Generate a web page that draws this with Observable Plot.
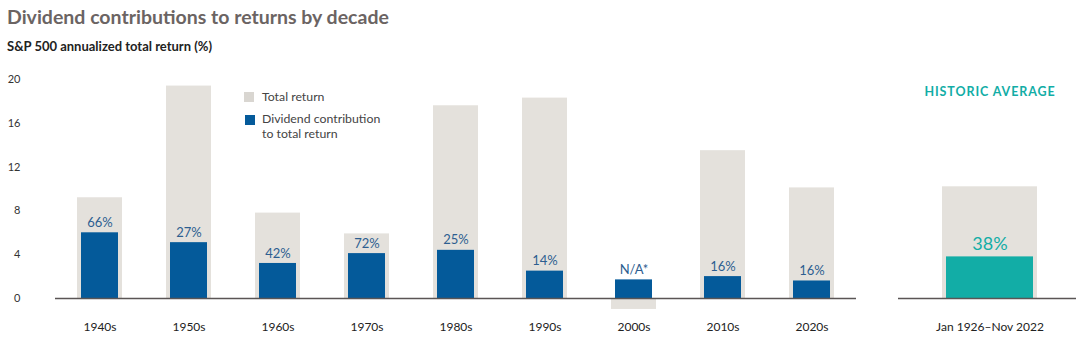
<!DOCTYPE html>
<html><head><meta charset="utf-8">
<script src="https://cdn.jsdelivr.net/npm/d3@7"></script>
<script src="https://cdn.jsdelivr.net/npm/@observablehq/plot@0.6"></script>
<style>
body{margin:0;background:#fff;font-family:Lato,"Open Sans",sans-serif;}
#wrap{position:relative;width:1090px;height:357px;overflow:hidden}
#title{position:absolute;left:7px;top:5px;font-size:19.5px;font-weight:700;color:#6b6463;white-space:nowrap}
#sub{position:absolute;left:7px;top:38px;font-size:13px;font-weight:700;color:#222;white-space:nowrap}
#chart{position:absolute;left:0;top:60px}
.leg{position:absolute;font-size:12.3px;color:#444;line-height:14px;white-space:nowrap}
.sw{position:absolute;width:10px;height:10px}
</style></head>
<body>
<div id="wrap">
  <div id="title">Dividend contributions to returns by decade</div>
  <div id="sub">S&amp;P 500 annualized total return (%)</div>
  <div id="chart"></div>
  <div class="sw" style="left:244px;top:92px;background:#d9d6d1"></div>
  <div class="leg" style="left:262px;top:90px">Total return</div>
  <div class="sw" style="left:245px;top:115px;background:#045a9a"></div>
  <div class="leg" style="left:262px;top:112px">Dividend contribution</div>
  <div class="leg" style="left:262px;top:127px">to total return</div>
</div>
<script>
const categories = ["1940s","1950s","1960s","1970s","1980s","1990s","2000s","2010s","2020s","Jan 1926–Nov 2022"];
const totalReturn = [9.2, 19.4, 7.8, 5.9, 17.6, 18.3, -1.0, 13.5, 10.1, 10.2];
const dividendReturn = [6.0, 5.1, 3.2, 4.1, 4.4, 2.5, 1.7, 2.0, 1.6, 3.8];
const shareLabels = ["66%","27%","42%","72%","25%","14%","N/A*","16%","16%","38%"];
const yTicks = [0, 4, 8, 12, 16, 20];
const historicHeading = "HISTORIC AVERAGE";
const gapKey = " ";

const rows = categories.map((c, i) => ({cat: c, total: totalReturn[i], div: dividendReturn[i], label: shareLabels[i], historic: i === categories.length - 1}));
const decades = rows.filter(d => !d.historic);
const hist = rows.filter(d => d.historic);
const domain = [...decades.map(d => d.cat), gapKey, ...hist.map(d => d.cat)];

const grey = "#e4e1dc", blue = "#045a9a", teal = "#12ada6";

const chart = Plot.plot({
  width: 1090, height: 297,
  marginLeft: 51, marginRight: 52, marginTop: 19, marginBottom: 59,
  style: {fontFamily: "Lato, 'Open Sans', sans-serif", color: "#333", background: "transparent"},
  x: {domain, padding: 0, label: null},
  y: {domain: [0, 20], label: null},
  marks: [
    Plot.axisY({ticks: yTicks, tickSize: 0, tickPadding: 31, fontSize: 11, fill: "#333", label: null}),
    Plot.axisX({ticks: categories, tickSize: 0, tickPadding: 24, fontSize: 12, fill: "#222", label: null}),
    Plot.barY(decades, {x: "cat", y: "total", fill: grey, insetLeft: 22, insetRight: 22}),
    Plot.barY(hist, {x: "cat", y: "total", fill: grey, insetLeft: -3, insetRight: -3}),
    Plot.barY(decades, {x: "cat", y: "div", fill: blue, insetLeft: 26, insetRight: 26}),
    Plot.barY(hist, {x: "cat", y: "div", fill: teal, insetLeft: 1, insetRight: 1}),
    Plot.ruleY(decades, {x1: "cat", x2: "cat", y: 0, stroke: "#5a5555", strokeWidth: 1.3}),
    Plot.ruleY(hist, {x1: "cat", x2: "cat", y: 0, stroke: "#5a5555", strokeWidth: 1.3, insetLeft: -47, insetRight: -42}),
    Plot.text(decades, {x: "cat", y: "div", text: "label", dy: -10, fill: "#2d5e90", fontSize: 13}),
    Plot.text(hist, {x: "cat", y: "div", text: "label", dy: -13, fill: teal, fontSize: 18}),
    Plot.text(hist, {x: "cat", frameAnchor: "top", lineAnchor: "middle", dy: 12, text: () => historicHeading, fill: teal, fontSize: 12.5, fontWeight: 700})
  ]
});
chart.querySelectorAll("text").forEach(t => { if (t.textContent === historicHeading) t.style.letterSpacing = "0.9px"; });
document.getElementById("chart").appendChild(chart);
</script>
</body></html>
